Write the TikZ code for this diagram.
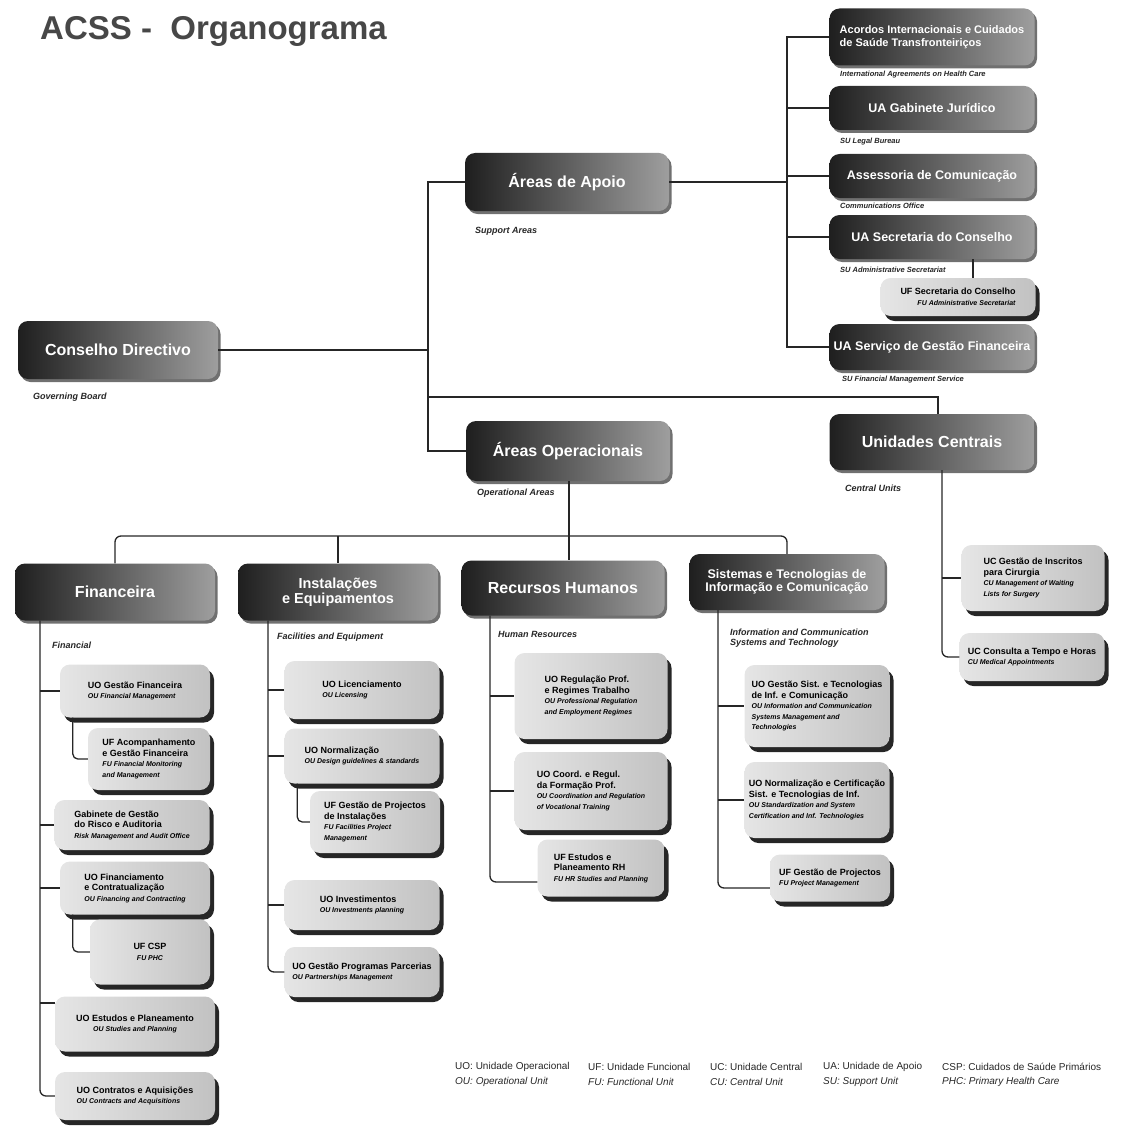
\documentclass[tikz,border=0pt]{standalone}
\usepackage{fontspec}
\setmainfont{Liberation Sans}
\usetikzlibrary{shadows,calc}
\newcommand{\ta}[1]{{\bfseries #1}}
\newcommand{\tb}[1]{{\bfseries\itshape\fontsize{7}{8.5}\selectfont #1}}
\begin{document}
\begin{tikzpicture}[x=1pt,y=-1pt,
  dark/.style={rounded corners=10pt, left color=black!88, right color=black!38, text=white,
    font=\bfseries\fontsize{16}{18}\selectfont, align=center, inner sep=2pt,
    drop shadow={shadow xshift=2.5pt,shadow yshift=-3pt,fill=black!70,opacity=0.8}},
  sup/.style={dark, font=\bfseries\fontsize{12.5}{14}\selectfont, minimum width=205},
  light/.style={rounded corners=10pt, left color=black!10, right color=black!24, text=black,
    font=\fontsize{9}{10.5}\selectfont, align=left, inner sep=2pt,
    drop shadow={shadow xshift=4pt,shadow yshift=-5pt,fill=black!85,opacity=1}},
  lbl/.style={font=\bfseries\itshape\fontsize{9}{10.5}\selectfont, text=black!85, anchor=west, inner sep=0pt, align=left},
  slbl/.style={lbl, font=\bfseries\itshape\fontsize{7.5}{9}\selectfont},
  leg/.style={font=\fontsize{10}{11}\selectfont, anchor=west, inner sep=0pt, text=black!85},
  legi/.style={leg, font=\itshape\fontsize{10}{11}\selectfont},
  conn/.style={line width=1.3pt, black!85},
]
\useasboundingbox (0,0) rectangle (1123,1126);

% title
\node[anchor=west, font=\bfseries\fontsize{33}{36}\selectfont, text=black!72, inner sep=0pt] (title) at (40,31) {ACSS -\ \ Organograma};

% main dark boxes
\node[dark, minimum width=200, minimum height=58] (cd) at (118,350) {Conselho Directivo};
\node[dark, minimum width=204, minimum height=58] (aa) at (567,182) {Áreas de Apoio};
\node[dark, minimum width=204, minimum height=60] (ao) at (568,451) {Áreas Operacionais};
\node[dark, minimum width=205, minimum height=56] (uc) at (932,442) {Unidades Centrais};

% support units
\node[sup, minimum height=57, font=\bfseries\fontsize{11}{13}\selectfont, align=left] (s1) at (932,37) {Acordos Internacionais e Cuidados\\de Saúde Transfronteiriços};
\node[sup, minimum height=44] (s2) at (932,108) {UA Gabinete Jurídico};
\node[sup, minimum height=44] (s3) at (932,176) {Assessoria de Comunicação};
\node[sup, minimum height=44] (s4) at (932,237) {UA Secretaria do Conselho};
\node[light, minimum width=155, minimum height=38, align=right] (s5) at (958,297) {\ta{UF Secretaria do Conselho}\\\tb{FU Administrative Secretariat}};
\node[sup, minimum height=46] (s6) at (932,347) {UA Serviço de Gestão Financeira};

% departments
\node[dark, minimum width=200, minimum height=57] (fin) at (115,592) {Financeira};
\node[dark, minimum width=200, minimum height=57, font=\bfseries\fontsize{14.5}{15}\selectfont] (ins) at (338,592) {Instalações\\e Equipamentos};
\node[dark, minimum width=203, minimum height=55] (rh) at (563,588) {Recursos Humanos};
\node[dark, minimum width=195, minimum height=56, font=\bfseries\fontsize{12.5}{13.5}\selectfont] (sis) at (787,582) {Sistemas e Tecnologias de\\Informação e Comunicação};

% Financeira units
\node[light, minimum width=150, minimum height=53] (f1) at (135,691) {\ta{UO Gestão Financeira}\\\tb{OU Financial Management}};
\node[light, minimum width=122, minimum height=62] (f2) at (149,759) {\ta{UF Acompanhamento}\\\ta{e Gestão Financeira}\\\tb{FU Financial Monitoring}\\\tb{and Management}};
\node[light, minimum width=155, minimum height=50] (f3) at (132,825) {\ta{Gabinete de Gestão}\\\ta{do Risco e Auditoria}\\\tb{Risk Management and Audit Office}};
\node[light, minimum width=150, minimum height=53] (f4) at (135,888) {\ta{UO Financiamento}\\\ta{e Contratualização}\\\tb{OU Financing and Contracting}};
\node[light, minimum width=120, minimum height=65, align=center] (f5) at (150,952) {\ta{UF CSP}\\\tb{FU PHC}};
\node[light, minimum width=160, minimum height=55, align=center] (f6) at (135,1024) {\ta{UO Estudos e Planeamento}\\\tb{OU Studies and Planning}};
\node[light, minimum width=160, minimum height=48] (f7) at (135,1096) {\ta{UO Contratos e Aquisições}\\\tb{OU Contracts and Acquisitions}};

% Instalacoes units
\node[light, minimum width=155, minimum height=58] (i1) at (362,690) {\ta{UO Licenciamento}\\\tb{OU Licensing}};
\node[light, minimum width=155, minimum height=55] (i2) at (362,756) {\ta{UO Normalização}\\\tb{OU Design guidelines \& standards}};
\node[light, minimum width=130, minimum height=62] (i3) at (375,822) {\ta{UF Gestão de Projectos}\\\ta{de Instalações}\\\tb{FU Facilities Project}\\\tb{Management}};
\node[light, minimum width=155, minimum height=50] (i4) at (362,905) {\ta{UO Investimentos}\\\tb{OU Investments planning}};
\node[light, minimum width=155, minimum height=50] (i5) at (362,972) {\ta{UO Gestão Programas Parcerias}\\\tb{OU Partnerships Management}};

% Recursos Humanos units
\node[light, minimum width=153, minimum height=86] (r1) at (591,696) {\ta{UO Regulação Prof.}\\\ta{e Regimes Trabalho}\\\tb{OU Professional Regulation}\\\tb{and Employment Regimes}};
\node[light, minimum width=153, minimum height=78] (r2) at (591,791) {\ta{UO Coord. e Regul.}\\\ta{da Formação Prof.}\\\tb{OU Coordination and Regulation}\\\tb{of Vocational Training}};
\node[light, minimum width=127, minimum height=57] (r3) at (601,868) {\ta{UF Estudos e}\\\ta{Planeamento RH}\\\tb{FU HR Studies and Planning}};

% Sistemas units
\node[light, minimum width=145, minimum height=82] (t1) at (817,706) {\ta{UO Gestão Sist. e Tecnologias}\\\ta{de Inf. e Comunicação}\\\tb{OU Information and Communication}\\\tb{Systems Management and}\\\tb{Technologies}};
\node[light, minimum width=145, minimum height=76] (t2) at (817,800) {\ta{UO Normalização e Certificação}\\\ta{Sist. e Tecnologias de Inf.}\\\tb{OU Standardization and System}\\\tb{Certification and Inf. Technologies}};
\node[light, minimum width=120, minimum height=47] (t3) at (830,878) {\ta{UF Gestão de Projectos}\\\tb{FU Project Management}};

% Central units
\node[light, minimum width=143, minimum height=66] (u1) at (1033,578) {\ta{UC Gestão de Inscritos}\\\ta{para Cirurgia}\\\tb{CU Management of Waiting}\\\tb{Lists for Surgery}};
\node[light, minimum width=145, minimum height=48] (u2) at (1032,657) {\ta{UC Consulta a Tempo e Horas}\\\tb{CU Medical Appointments}};

% labels
\node[lbl] (lcd) at (33,397) {Governing Board};
\node[lbl] (laa) at (475,231) {Support Areas};
\node[lbl] (lao) at (477,493) {Operational Areas};
\node[lbl] (luc) at (845,488) {Central Units};
\node[slbl] (ls1) at (840,75) {International Agreements on Health Care};
\node[slbl] (ls2) at (840,142) {SU Legal Bureau};
\node[slbl] (ls3) at (840,206) {Communications Office};
\node[slbl] (ls4) at (840,270) {SU Administrative Secretariat};
\node[slbl] (ls6) at (842,380) {SU Financial Management Service};
\node[lbl] (lfin) at (52,645) {Financial};
\node[lbl] (lins) at (277,637) {Facilities and Equipment};
\node[lbl] (lrh) at (498,634) {Human Resources};
\node[lbl] (lsis) at (730,638) {Information and Communication\\Systems and Technology};

% legend
\node[leg] (g1a) at (455,1067) {UO: Unidade Operacional};
\node[legi] (g1b) at (455,1082) {OU: Operational Unit};
\node[leg] (g2a) at (588,1067) {UF: Unidade Funcional};
\node[legi] (g2b) at (588,1082) {FU: Functional Unit};
\node[leg] (g3a) at (710,1067) {UC: Unidade Central};
\node[legi] (g3b) at (710,1082) {CU: Central Unit};
\node[leg] (g4a) at (823,1067) {UA: Unidade de Apoio};
\node[legi] (g4b) at (823,1082) {SU: Support Unit};
\node[leg] (g5a) at (942,1067) {CSP: Cuidados de Saúde Primários};
\node[legi] (g5b) at (942,1082) {PHC: Primary Health Care};

% connectors: top level
\coordinate (T) at (428,0);
\coordinate (J) at (428,397);
\coordinate (S) at (787,0);
\coordinate (H) at (0,536);
\coordinate (OP) at (569,0);
\draw[conn] (cd.east) -- (cd.east -| T);
\draw[conn] (aa.west) -- (aa.west -| T) -- (ao.west -| T) -- (ao.west);
\draw[conn] (J) -| ([xshift=6pt]uc.north);
\draw[conn] (aa.east) -- (aa.east -| S);
\draw[conn] (s1.west) -- (s1.west -| S) -- (s6.west -| S) -- (s6.west);
\foreach \n in {s2,s3,s4} \draw[conn] (\n.west -| S) -- (\n.west);
\draw[conn] ([xshift=41pt]s4.south) -- ([xshift=41pt]s4.south |- s5.north);

% operational tree
\draw[conn] (OP |- ao.south) -- (OP |- rh.north);
\draw[conn, rounded corners=6pt] (fin.north) |- (sis.north |- H) -- (sis.north);
\draw[conn] (ins.north |- H) -- (ins.north);

% Financeira
\coordinate (F) at (40,0);
\coordinate (f6b) at ([yshift=21pt]f6.west);
\draw[conn, rounded corners=6pt] (F |- fin.south) |- (f7.west);
\foreach \n in {f1,f3,f4} \draw[conn] (F |- \n.west) -- (\n.west);
\draw[conn] (F |- f6b) -- (f6b);
\draw[conn, rounded corners=5pt] ([xshift=13pt]f1.south west) |- (f2.west);
\draw[conn, rounded corners=5pt] ([xshift=13pt]f4.south west) |- (f5.west);

% Instalacoes
\coordinate (I) at (268,0);
\draw[conn, rounded corners=6pt] (I |- ins.south) |- (i5.west);
\foreach \n in {i1,i2,i4} \draw[conn] (I |- \n.west) -- (\n.west);
\draw[conn, rounded corners=5pt] ([xshift=13pt]i2.south west) |- (i3.west);

% Recursos Humanos
\coordinate (R) at (490,0);
\coordinate (r3b) at ([yshift=-14pt]r3.west);
\draw[conn, rounded corners=6pt] (R |- rh.south) |- (r3b);
\foreach \n in {r1,r2} \draw[conn] (R |- \n.west) -- (\n.west);

% Sistemas
\coordinate (Y) at (718,0);
\coordinate (t3b) at ([yshift=-10pt]t3.west);
\draw[conn, rounded corners=6pt] (Y |- sis.south) |- (t3b);
\foreach \n in {t1,t2} \draw[conn] (Y |- \n.west) -- (\n.west);

% Unidades centrais
\draw[conn, rounded corners=6pt] ([xshift=10pt]uc.south) |- (u2.west);
\draw[conn] ([xshift=10pt]uc.south |- u1.west) -- (u1.west);
\end{tikzpicture}
\end{document}
